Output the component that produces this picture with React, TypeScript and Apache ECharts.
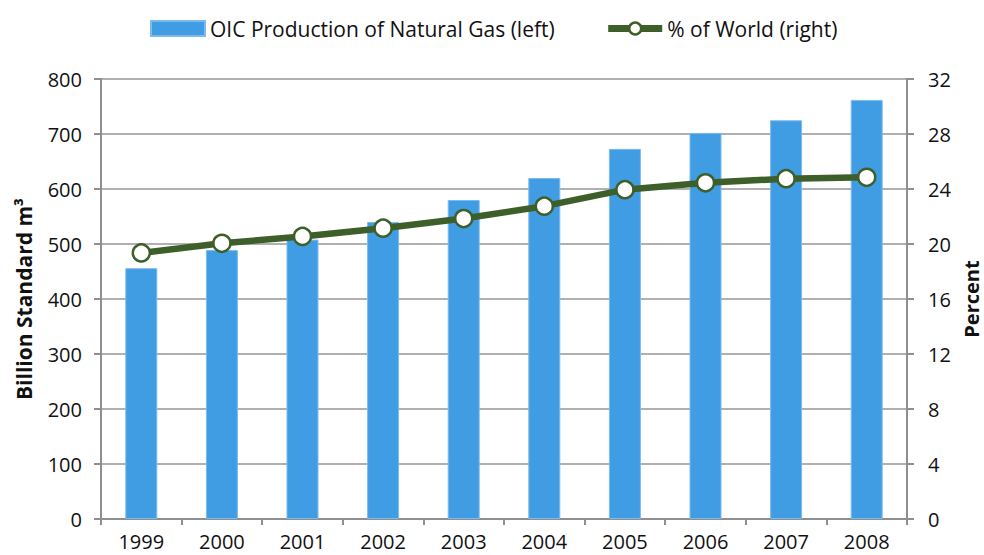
import React, { useEffect, useRef } from "react";
import * as echarts from "echarts";

const years = ["1999", "2000", "2001", "2002", "2003", "2004", "2005", "2006", "2007", "2008"];
const gasProduction = [456, 489, 508, 540, 580, 620, 673, 702, 725, 762];
const worldShare = [19.35, 20.05, 20.55, 21.15, 21.85, 22.75, 23.95, 24.45, 24.75, 24.85];

const FONT = "'Open Sans', Lato, sans-serif";
const BLUE = "#409DE3";
const GREEN = "#3E5F2A";
const GRID_GRAY = "#969696";

export default function App() {
  const ref = useRef<HTMLDivElement>(null);
  useEffect(() => {
    if (!ref.current) return;
    const chart = echarts.init(ref.current, undefined, { renderer: "svg" });
    chart.setOption({
      animation: false,
      backgroundColor: "#ffffff",
      textStyle: { fontFamily: FONT },
      legend: {
        top: 13,
        left: 145,
        itemWidth: 54,
        itemHeight: 15,
        itemGap: 50,
        textStyle: { fontFamily: FONT, fontSize: 21, color: "#111" },
        data: [
          { name: "OIC Production of Natural Gas (left)", icon: "rect" },
          {
            name: "% of World (right)",
            lineStyle: { width: 7, color: GREEN },
            itemStyle: { color: "#ffffff", borderColor: GREEN, borderWidth: 2.5 },
          },
        ],
      },
      grid: { left: 101, right: 77, top: 79, bottom: 36, outerBoundsMode: "none", containLabel: false },
      xAxis: {
        type: "category",
        data: years,
        boundaryGap: true,
        axisLine: { lineStyle: { color: "#8f8f8f", width: 2 } },
        axisTick: { show: true, length: 6, alignWithLabel: false, lineStyle: { color: "#8f8f8f", width: 2 } },
        axisLabel: { margin: 12, fontSize: 20, color: "#111", fontFamily: FONT },
      },
      yAxis: [
        {
          type: "value",
          min: 0,
          max: 800,
          interval: 100,
          name: "Billion Standard m³",
          nameLocation: "middle",
          nameGap: 67,
          nameTextStyle: { fontSize: 21, fontWeight: "bold", color: "#111", fontFamily: FONT },
          axisLine: { show: true, lineStyle: { color: "#8f8f8f", width: 2 } },
          axisTick: { show: true, length: 7, lineStyle: { color: "#8f8f8f", width: 2 } },
          axisLabel: { margin: 19, fontSize: 20, color: "#111", fontFamily: FONT },
          splitLine: { show: true, lineStyle: { color: GRID_GRAY, width: 1.5 } },
        },
        {
          type: "value",
          min: 0,
          max: 32,
          interval: 4,
          name: "Percent",
          nameLocation: "middle",
          nameGap: 48,
          nameTextStyle: { fontSize: 20, lineHeight: 20, fontWeight: "bold", color: "#111", fontFamily: FONT },
          axisLine: { show: true, lineStyle: { color: "#8f8f8f", width: 2 } },
          axisTick: { show: true, length: 7, lineStyle: { color: "#8f8f8f", width: 2 } },
          axisLabel: { margin: 21, fontSize: 20, color: "#111", fontFamily: FONT },
          splitLine: { show: false },
        },
      ],
      series: [
        {
          name: "OIC Production of Natural Gas (left)",
          type: "bar",
          data: gasProduction,
          barWidth: 32,
          yAxisIndex: 0,
          itemStyle: { color: BLUE, borderColor: "#7DBBEC", borderWidth: 1 },
        },
        {
          name: "% of World (right)",
          type: "line",
          data: worldShare,
          yAxisIndex: 1,
          symbol: "circle",
          symbolSize: 17,
          lineStyle: { color: GREEN, width: 6.5 },
          itemStyle: { color: "#ffffff", borderColor: GREEN, borderWidth: 2.5 },
          z: 5,
        },
      ],
    });
    return () => chart.dispose();
  }, []);
  return (
    <div
      ref={ref}
      style={{ position: "absolute", left: 0, top: 0, width: 984, height: 555, background: "#fff" }}
    />
  );
}
